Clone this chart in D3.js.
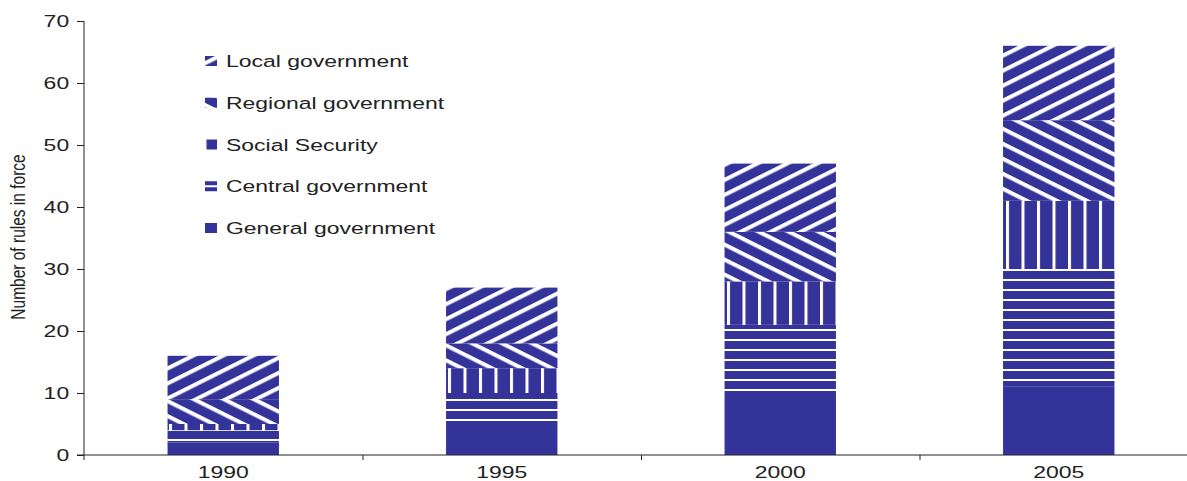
<!DOCTYPE html>
<meta charset='utf-8'>
<style>
  body { margin: 0; background: #fff; }
  text { font-family: 'Liberation Sans', Arial, sans-serif; fill: #222; }
</style>
<div id='chart'></div>
<script src='https://d3js.org/d3.v7.min.js'></script>
<script>

  // values
  var years = ['1990', '1995', '2000', '2005'];
  var seriesNames = ['General government', 'Central government', 'Social Security',
                     'Regional government', 'Local government'];
  var general  = [2, 5, 10, 11];
  var central  = [2, 5, 11, 19];
  var social   = [1, 4, 7, 11];
  var regional = [4, 4, 8, 13];
  var local    = [7, 9, 11, 12];
  var yTicks = [0, 10, 20, 30, 40, 50, 60, 70];

  var rows = years.map(function (yr, i) {
    return { year: yr, 'General government': general[i], 'Central government': central[i],
             'Social Security': social[i], 'Regional government': regional[i],
             'Local government': local[i] };
  });

  var W = 1187, H = 481, stretch = 1.35, blue = '#333399';

  var svg = d3.select('#chart').append('svg')
      .attr('width', W).attr('height', H);

  // fill patterns, tiled in page space like the original
  var defs = svg.append('defs');
  var pats = {
    'General government': 'url(#p-solid)',
    'Central government': 'url(#p-horiz)',
    'Social Security': 'url(#p-vert)',
    'Regional government': 'url(#p-down)',
    'Local government': 'url(#p-up)'
  };
  defs.append('pattern').attr('id', 'p-solid').attr('patternUnits', 'userSpaceOnUse')
      .attr('width', 10).attr('height', 10)
    .append('rect').attr('width', 10).attr('height', 10).attr('fill', blue);

  var ph = defs.append('pattern').attr('id', 'p-horiz').attr('patternUnits', 'userSpaceOnUse')
      .attr('y', -1).attr('width', 20).attr('height', 10);
  ph.append('rect').attr('width', 20).attr('height', 10).attr('fill', blue);
  ph.append('rect').attr('width', 20).attr('height', 2).attr('fill', '#fff');

  var pv = defs.append('pattern').attr('id', 'p-vert').attr('patternUnits', 'userSpaceOnUse')
      .attr('x', 14).attr('width', 15.5).attr('height', 20);
  pv.append('rect').attr('width', 15.5).attr('height', 20).attr('fill', blue);
  pv.append('rect').attr('width', 3).attr('height', 20).attr('fill', '#fff');

  [['p-up', -26.57], ['p-down', 26.57]].forEach(function (p) {
    var g = defs.append('pattern').attr('id', p[0]).attr('patternUnits', 'userSpaceOnUse')
        .attr('width', 30).attr('height', 15)
        .attr('patternTransform', 'skewY(' + p[1] + ')');
    g.append('rect').attr('width', 30).attr('height', 15).attr('fill', blue);
    g.append('rect').attr('width', 30).attr('height', 4.5).attr('fill', '#fff');
  });

  var x = d3.scaleBand()
      .domain(years)
      .range([84, 1198])
      .paddingInner(0.6)
      .paddingOuter(0.3);
  var xEdge = d3.scaleLinear().domain([0, 4]).range([84, 1198]);

  var y = d3.scaleLinear()
      .domain([0, 70])
      .range([455, 21]);

  var stacked = d3.stack().keys(seriesNames)(rows);

  svg.append('g')
    .selectAll('g')
    .data(stacked)
    .enter().append('g')
      .attr('fill', function (d) { return pats[d.key]; })
    .selectAll('rect')
    .data(function (d) { return d; })
    .enter().append('rect')
      .attr('x', function (d) { return x(d.data.year); })
      .attr('y', function (d) { return y(d[1]); })
      .attr('width', x.bandwidth())
      .attr('height', function (d) { return y(d[0]) - y(d[1]); });

  // y axis
  var yAx = svg.append('g')
      .attr('transform', 'translate(84,0)')
      .call(d3.axisLeft(y).tickValues(yTicks).tickSize(7).tickSizeOuter(0).tickPadding(4));
  yAx.select('.domain').remove();
  yAx.selectAll('line').attr('stroke', '#222');
  yAx.selectAll('text')
      .attr('font-size', 17)
      .attr('transform', 'scale(' + stretch + ',1)');
  svg.append('line')
      .attr('x1', 84).attr('x2', 84)
      .attr('y1', y(70)).attr('y2', y(0) + 5)
      .attr('stroke', '#222');

  // x axis: labels under the bars, ticks between categories
  var xAx = svg.append('g')
      .attr('transform', 'translate(0,' + y(0) + ')')
      .call(d3.axisBottom(x).tickSize(0).tickSizeOuter(0));
  xAx.select('.domain').remove();
  xAx.selectAll('text')
      .attr('font-size', 17)
      .attr('y', 23).attr('dy', null)
      .attr('transform', 'scale(' + stretch + ',1)');

  var xTickAx = svg.append('g')
      .attr('transform', 'translate(0,' + y(0) + ')')
      .call(d3.axisBottom(xEdge).tickValues([1, 2, 3]).tickFormat('').tickSize(5).tickSizeOuter(0));
  xTickAx.select('.domain').remove();
  xTickAx.selectAll('line').attr('stroke', '#222');
  svg.append('line')
      .attr('x1', 77).attr('x2', W)
      .attr('y1', y(0)).attr('y2', y(0))
      .attr('stroke', '#222');

  // y title
  svg.append('text')
      .attr('transform', 'translate(25,237) scale(' + stretch + ',1) rotate(-90)')
      .attr('text-anchor', 'middle')
      .attr('font-size', 15.5)
      .text('Number of rules in force');

  // legend
  var legendOrder = seriesNames.slice().reverse();
  var leg = svg.append('g')
    .selectAll('g')
    .data(legendOrder)
    .enter().append('g')
      .attr('transform', function (d, i) { return 'translate(205,' + (61 + i * 41.75) + ')'; });
  leg.append('rect')
      .attr('x', 0).attr('y', -5)
      .attr('width', 12).attr('height', 10)
      .attr('fill', function (d) { return pats[d]; });
  leg.append('text')
      .attr('transform', 'translate(21,6) scale(' + stretch + ',1)')
      .attr('font-size', 17)
      .text(function (d) { return d; });

</script>
